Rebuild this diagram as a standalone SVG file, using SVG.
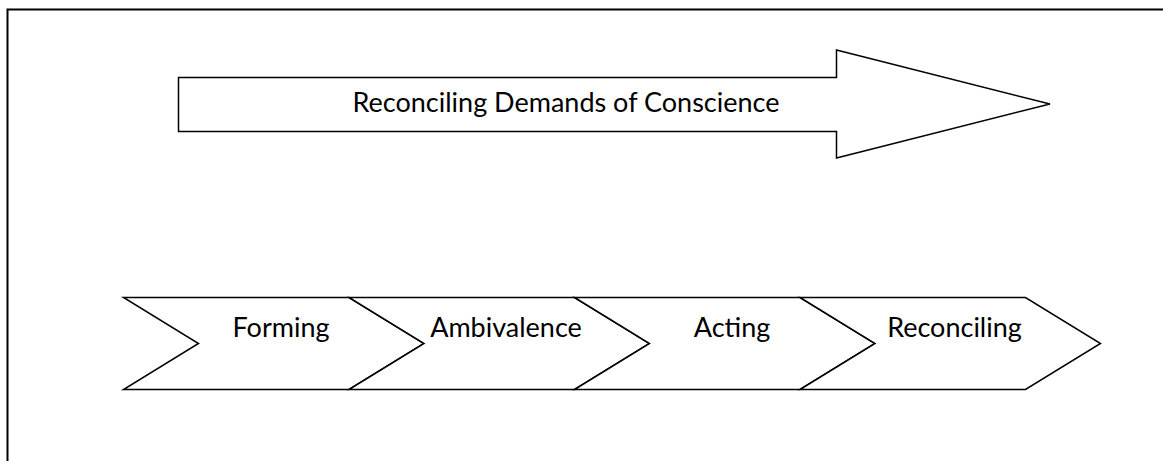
<svg xmlns="http://www.w3.org/2000/svg" width="1163" height="461" viewBox="0 0 1163 461">
  <style>
    .shape { fill: #ffffff; stroke: #000000; stroke-width: 1.5; stroke-linejoin: miter; }
    .frame { fill: none; stroke: #000000; stroke-width: 2; }
    .label { font-family: Lato, "Open Sans", "Liberation Sans", sans-serif; font-size: 27px; fill: #000000; text-anchor: middle; }
  </style>
  <defs>
    <!-- chevron step: body 225.5 wide, point depth 75, height 92 -->
    <path id="chevron" d="M0,0 L225.5,0 L300.5,46 L225.5,92 L0,92 L75,46 Z"/>
  </defs>
  <rect width="1163" height="461" fill="#ffffff"/>

  <!-- page frame (continues past right and bottom edges) -->
  <rect class="frame" x="7.5" y="9.5" width="1200" height="500"/>

  <!-- overall process arrow -->
  <g id="process-arrow">
    <polygon class="shape" points="178.5,77.5 836.5,77.5 836.5,50 1050,104 836.5,158 836.5,131.5 178.5,131.5"/>
    <text class="label" x="566" y="112">Reconciling Demands of Conscience</text>
  </g>

  <!-- stages -->
  <g id="stage-forming">
    <use href="#chevron" class="shape" x="123.5" y="297.5"/>
    <text class="label" x="281" y="337">Forming</text>
  </g>
  <g id="stage-ambivalence">
    <use href="#chevron" class="shape" x="349" y="297.5"/>
    <text class="label" x="506" y="337">Ambivalence</text>
  </g>
  <g id="stage-acting">
    <use href="#chevron" class="shape" x="574.5" y="297.5"/>
    <text class="label" x="732" y="337">Acting</text>
  </g>
  <g id="stage-reconciling">
    <use href="#chevron" class="shape" x="800" y="297.5"/>
    <text class="label" x="954.5" y="337">Reconciling</text>
  </g>

  <g id="connectors"></g>
</svg>
